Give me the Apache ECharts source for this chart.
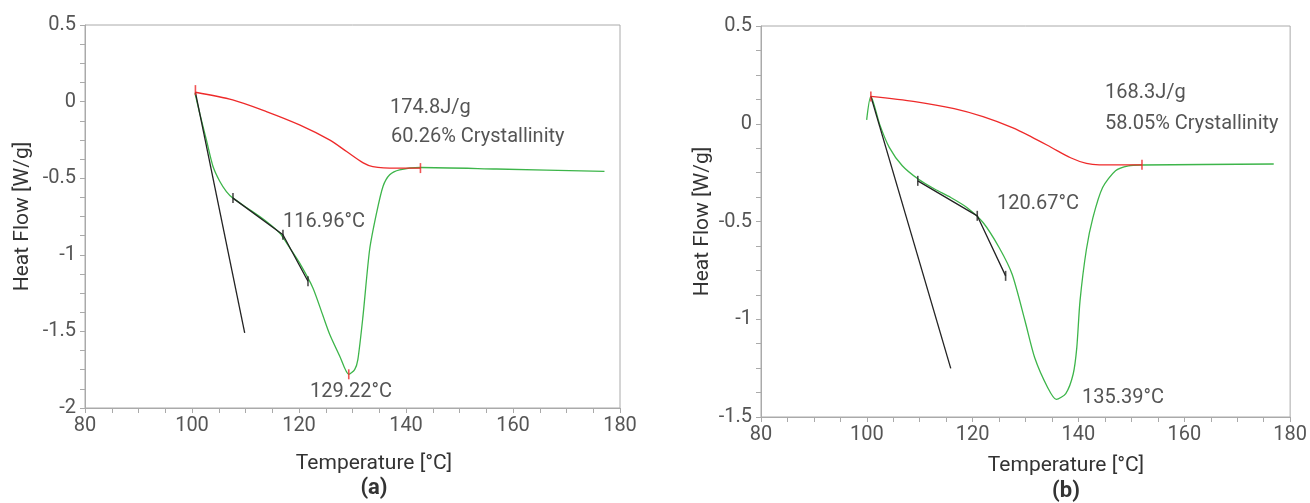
<!DOCTYPE html>
<html>
<head>
<meta charset="utf-8">
<script src="https://cdn.jsdelivr.net/npm/echarts@6/dist/echarts.min.js"></script>
<style>
html, body { margin: 0; padding: 0; background: #fff; }
#dsc { width: 1310px; height: 503px; }
</style>
</head>
<body>
<div id="dsc"></div>
<script>
// [temperature degC, heat flow W/g]

// ---- (a)
const greenA = [
    [100.56, 0.055], [101.44, -0.076], [102.69, -0.25], [103.93, -0.424], [105.18, -0.52],
    [106.43, -0.587], [107.66, -0.63], [110.8, -0.706], [113.9, -0.782], [116.4, -0.858],
    [118.3, -0.956], [120.1, -1.053], [122.6, -1.216], [124.5, -1.40], [125.75, -1.52],
    [127.6, -1.66], [129.3, -1.78], [130.4, -1.75], [131.0, -1.684], [131.96, -1.40],
    [133.2, -0.967], [134.5, -0.727], [135.7, -0.554], [136.95, -0.478], [138.8, -0.445],
    [142.7, -0.43], [156.9, -0.44], [177.1, -0.456]
];
const redA = [
    [100.64, 0.061], [107.6, 0.011], [113.9, -0.065], [120.1, -0.152], [125.7, -0.25],
    [128.9, -0.326], [132.0, -0.40], [133.8, -0.424], [138.2, -0.434], [142.7, -0.434]
];
const tangentA = [[100.64, 0.06], [109.85, -1.51]];
const segA = [[107.66, -0.63], [117.0, -0.869], [121.68, -1.173]];
const redTicksA = [[100.64, 0.075], [142.7, -0.434], [129.3, -1.78]];

// ---- (b)
const greenB = [
    [99.97, 0.02], [100.76, 0.14], [102.41, -0.002], [104.24, -0.121], [106.7, -0.215],
    [109.7, -0.283], [112.8, -0.334], [115.86, -0.377], [118.9, -0.428], [121.96, -0.505],
    [125.0, -0.633], [127.46, -0.77], [129.9, -1.009], [131.73, -1.197], [134.19, -1.35],
    [135.8, -1.41], [137.6, -1.38], [139.0, -1.28], [139.68, -1.145], [140.29, -0.906],
    [141.5, -0.642], [142.73, -0.48], [144.56, -0.326], [147.0, -0.24], [149.45, -0.215],
    [152.0, -0.211], [176.9, -0.206]
];
const redB = [
    [100.76, 0.14], [109.1, 0.113], [116.5, 0.077], [121.96, 0.036], [127.5, -0.02],
    [131.1, -0.067], [134.8, -0.12], [138.5, -0.174], [141.5, -0.203], [143.95, -0.21],
    [152.0, -0.21]
];
const tangentB = [[100.76, 0.14], [115.86, -1.251]];
const segB = [[109.63, -0.292], [120.87, -0.471], [126.23, -0.778]];
const redTicksB = [[100.76, 0.14], [152.0, -0.21]];

const notesA = ['174.8J/g', '60.26% Crystallinity', '116.96°C', '129.22°C'];
const notesB = ['168.3J/g', '58.05% Crystallinity', '120.67°C', '135.39°C'];

const GREEN = '#3db54a';
const RED = '#ee2a2a';
const INK = '#222';
const FONT = 'Roboto';

const chart = echarts.init(document.getElementById('dsc'));

function xAx(idx) {
    return {
        type: 'value', gridIndex: idx, min: 80, max: 180, interval: 20,
        axisLine: { show: true, onZero: false, lineStyle: { color: '#aaa' } },
        axisTick: { show: true, length: 5, lineStyle: { color: '#aaa' } },
        minorTick: { show: true, splitNumber: 4, length: 5, lineStyle: { color: '#aaa' } },
        splitLine: { show: false },
        axisLabel: { color: '#555', fontSize: 20, fontFamily: FONT, margin: 8 }
    };
}

function yAx(idx, min, gap) {
    return {
        type: 'value', gridIndex: idx, min: min, max: 0.5, interval: 0.5,
        name: 'Heat Flow [W/g]', nameLocation: 'middle', nameGap: gap,
        nameTextStyle: { color: '#333', fontSize: 21, fontFamily: FONT },
        axisLine: { show: true, onZero: false, lineStyle: { color: '#aaa' } },
        axisTick: { show: true, length: 5, lineStyle: { color: '#aaa' } },
        minorTick: { show: true, splitNumber: 4, length: 5, lineStyle: { color: '#aaa' } },
        splitLine: { show: false },
        axisLabel: { color: '#555', fontSize: 20, fontFamily: FONT, margin: 9 }
    };
}

function curve(data, color, idx, smooth) {
    return {
        type: 'line', data: data, xAxisIndex: idx, yAxisIndex: idx,
        showSymbol: false, smooth: smooth,
        lineStyle: { color: color, width: 1.3 }, silent: true, animation: false
    };
}

function ticks(data, color, idx) {
    return {
        type: 'scatter', data: data, xAxisIndex: idx, yAxisIndex: idx,
        symbol: 'rect', symbolSize: [1.6, 10], z: 5,
        itemStyle: { color: color }, silent: true, animation: false
    };
}

function note(text, x, y, size) {
    return {
        type: 'text', x: x, y: y,
        style: { text: text, fill: '#555', font: size + 'px ' + FONT, verticalAlign: 'middle' }
    };
}

function caption(text, x, y, bold) {
    return {
        type: 'text', x: x, y: y,
        style: {
            text: text, fill: '#333', align: 'center', verticalAlign: 'middle',
            font: (bold ? 'bold 22px ' : '21px ') + FONT
        }
    };
}

const option = {
    backgroundColor: '#fff',
    animation: false,
    grid: [
        { left: 85, right: 690, top: 25, bottom: 95, show: true, borderColor: '#aaa', borderWidth: 1 },
        { left: 761, right: 3, top: 26, bottom: 86, show: true, borderColor: '#aaa', borderWidth: 1 }
    ],
    xAxis: [xAx(0), xAx(1)],
    yAxis: [yAx(0, -2, 52), yAx(1, -1.5, 48)],
    series: [
        curve(greenA, GREEN, 0, 0.25),
        curve(redA, RED, 0, 0.3),
        curve(tangentA, INK, 0, false),
        curve(segA, INK, 0, false),
        ticks(segA, INK, 0),
        ticks(redTicksA, RED, 0),
        curve(greenB, GREEN, 1, 0.25),
        curve(redB, RED, 1, 0.3),
        curve(tangentB, INK, 1, false),
        curve(segB, INK, 1, false),
        ticks(segB, INK, 1),
        ticks(redTicksB, RED, 1)
    ],
    graphic: [
        note(notesA[0], 390, 108, 20),
        note(notesA[1], 391, 137, 20),
        note(notesA[2], 283, 222, 20),
        note(notesA[3], 310, 392, 20),
        note(notesB[0], 1105, 93, 20),
        note(notesB[1], 1105, 124, 20),
        note(notesB[2], 997, 204, 20),
        note(notesB[3], 1082, 398, 20),
        caption('Temperature [°C]', 374, 464, false),
        caption('(a)', 374, 488, true),
        caption('Temperature [°C]', 1066, 466, false),
        caption('(b)', 1066, 491, true)
    ]
};

chart.setOption(option);
</script>
</body>
</html>
